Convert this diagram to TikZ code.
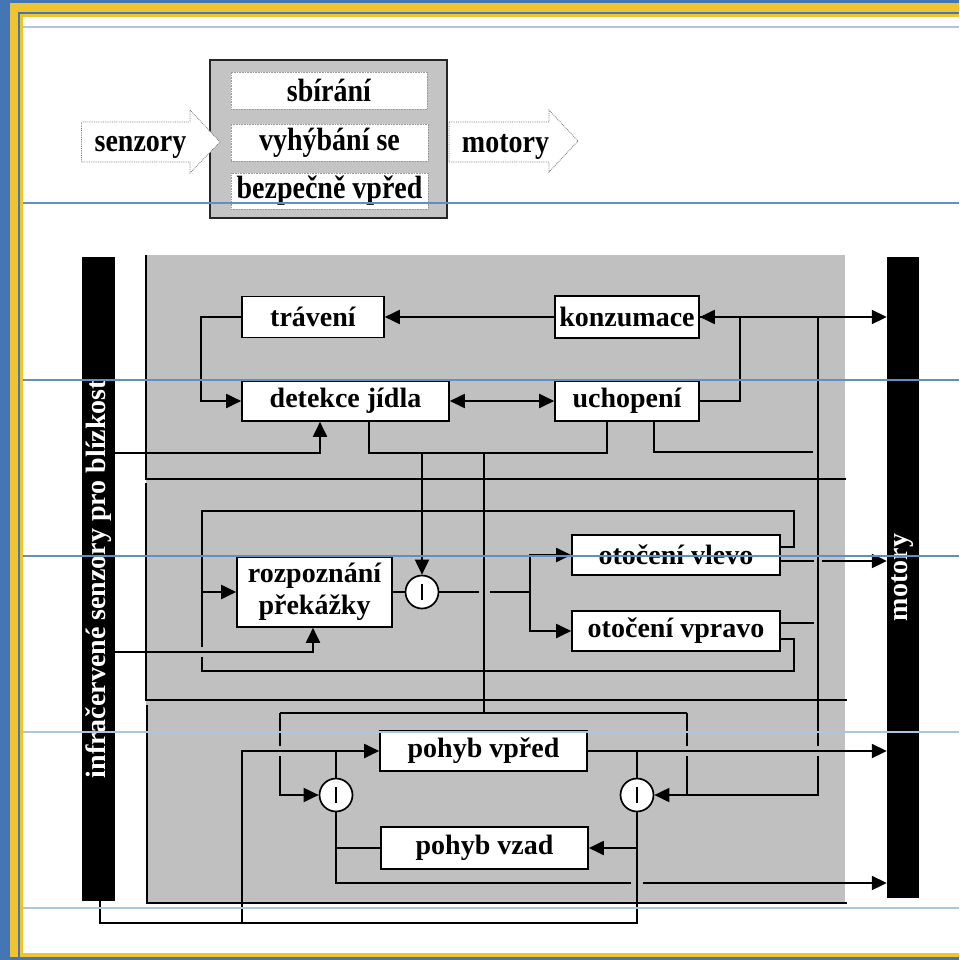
\documentclass[tikz,border=0pt]{standalone}
\usepackage{fontspec}
\usepackage{graphicx}
\setmainfont{Liberation Serif}
\usetikzlibrary{arrows.meta,calc}

\definecolor{frameblue}{RGB}{68,118,182}
\definecolor{frameyellow}{RGB}{240,196,48}
\definecolor{panelgray}{RGB}{192,192,192}
\definecolor{topgray}{RGB}{196,196,196}
\definecolor{rulelight}{RGB}{172,198,226}
\definecolor{rulemid}{RGB}{98,142,196}

\tikzset{
  lbl/.style={font=\bfseries\fontsize{28}{32}\selectfont},
  box/.style={lbl, draw, fill=white, line width=1.6pt, inner sep=0pt, align=center},
  bar/.style={fill=black, inner sep=0pt},
  bartext/.style={lbl, text=white, rotate=90},
  inh/.style={circle, draw, fill=white, line width=1.7pt, minimum size=33pt, inner sep=0pt,
    path picture={\draw[line width=1.6pt]
      ($(path picture bounding box.center)+(0,-8pt)$) -- ($(path picture bounding box.center)+(0,8pt)$);}},
  conn/.style={line width=1.9pt},
  arr/.style={conn, -{Triangle[length=15pt,width=14pt]}},
  arrboth/.style={conn, {Triangle[length=15pt,width=14pt]}-{Triangle[length=15pt,width=14pt]}},
  divider/.style={line width=1.9pt},
  topframe/.style={draw=black!85, fill=topgray, line width=2.2pt, inner sep=0pt},
  topbox/.style={lbl, draw=black!40, densely dotted, line width=0.6pt, fill=white, inner sep=0pt},
  bigarrow/.style={draw=black!55, densely dotted, line width=0.8pt, fill=white},
}

\begin{document}
\begin{tikzpicture}[x=1pt, y=-1pt]
\useasboundingbox (0,0) rectangle (959,960);

% page frame
\fill[frameblue] (0,0) rectangle (959,960);
\fill[frameyellow] (10,3) rectangle (959,957);
\fill[frameblue] (18,12) rectangle (959,957);
\fill[frameyellow] (20,14) rectangle (959,957);
\fill[white] (23,17) rectangle (959,953);

% ---------- layered behaviours (top) ----------
\node[topframe, minimum width=237pt, minimum height=158pt] (beh) at (328.5,139) {};
\node[topbox, minimum width=196pt, minimum height=37pt] (sbir) at (329,90.5) {\scalebox{1}[1.15]{sbírání}};
\node[topbox, minimum width=197pt, minimum height=37pt] (vyh) at (329.5,142.5) {\scalebox{1}[1.15]{vyhýbání se}};
\node[topbox, minimum width=197pt, minimum height=36pt] (bezp) at (329.5,191) {\scalebox{1}[1.15]{bezpečně vpřed}};

\draw[bigarrow] (81.5,122) -- (190,122) -- (190,110) -- (220,142) -- (190,173) -- (190,162) -- (81.5,162) -- cycle;
\node[lbl] (senz) at (140.5,147) {\scalebox{1}[1.15]{senzory}};
\draw[bigarrow] (449,122) -- (549,122) -- (549,110) -- (578,141) -- (549,172) -- (549,162) -- (449,162) -- cycle;
\node[lbl] (mot) at (505.5,147) {\scalebox{1}[1.15]{motory}};

% ---------- subsumption network (bottom) ----------
\fill[panelgray] (146,255) rectangle (845,903);
\draw[divider] (146,255) -- (146,479) -- (846,479);
\draw[divider] (146,483) -- (146,700) -- (847,700);
\draw[divider] (147,705) -- (147,903) -- (847,903);

% sensor and motor bars
\node[bar, minimum width=33pt, minimum height=644pt] (senL) at (98.5,579) {};
\node[bartext] (senT) at (senL.center) {infračervené senzory pro blízkost};
\node[bar, minimum width=32pt, minimum height=641pt] (motR) at (903,577.5) {};
\node[bartext] (motT) at (motR.center) {motory};

% modules
\node[box, minimum width=142pt, minimum height=41pt] (trav) at (313,317) {trávení};
\node[box, minimum width=144pt, minimum height=42pt] (kons) at (627,317) {konzumace};
\node[box, minimum width=207pt, minimum height=40pt] (det) at (345.5,401) {detekce jídla};
\node[box, minimum width=144pt, minimum height=40pt] (uch) at (627,401) {uchopení};
\node[box, minimum width=155pt, minimum height=70pt] (roz) at (314.5,592) {rozpoznání\\překážky};
\node[box, minimum width=208pt, minimum height=40pt] (vlevo) at (676,555) {otočení vlevo};
\node[box, minimum width=208pt, minimum height=40pt] (vpravo) at (676,631) {otočení vpravo};
\node[box, minimum width=207pt, minimum height=40pt] (vpred) at (483.5,751) {pohyb vpřed};
\node[box, minimum width=207pt, minimum height=42pt] (vzad) at (484.5,848) {pohyb vzad};

\node[inh] (c1) at (422,592) {};
\node[inh] (c2) at (336,795) {};
\node[inh] (c3) at (637,795) {};

% junction points
\coordinate (s1) at (320,453);
\coordinate (busA) at (369,453);
\coordinate (busB) at (607,453);
\coordinate (uo) at (654,452);
\coordinate (uoEnd) at (813,452);
\coordinate (bus3) at (484,713);
\coordinate (b3L) at (280,713);
\coordinate (b3R) at (687,713);
\coordinate (r818) at (818,317);
\coordinate (fork) at (530,592);
\coordinate (lpL) at (202,592);
\coordinate (sb) at (100,923);

% food layer
\draw[arr] (kons.west) -- (trav.east |- kons.west);
\draw[arr] (trav.west) -- ++(-40,0) |- (det.west);
\draw[arrboth] (det.east) -- (uch.west);
\draw[arr] (uch.east) -- ++(40,0) |- (kons.east);
\draw[arr] (kons.east) -- (kons.east -| motR.west);
\draw[arr] (senL.east |- s1) -| (det.south -| s1);
\draw[conn] (det.south -| busA) -- (busA) -- (busB) -- (uch.south -| busB);
\draw[conn] (uch.south -| uo) -- (uo) -- (uoEnd);
\draw[arr] (c1.north |- busA) -- (c1.north);
\draw[conn] (bus3 |- busA) -- (bus3);
\draw[conn] (b3L) -- (b3R);

% obstacle layer
\draw[conn] (roz.east) -- (c1.west);
\draw[conn] (c1.east) -- (479,592) (490,592) -- (fork);
\draw[arr] (fork) |- (vlevo.west);
\draw[arr] (fork) |- (vpravo.west);
\draw[conn] (vlevo.east |- 0,547) -- (794,547) |- (202,511) -- (lpL);
\draw[conn] (vpravo.east |- 0,639) -- (794,639) |- (202,671) -- (202,657) (202,647) -- (lpL);
\draw[arr] (lpL) -- (roz.west);
\draw[arr] (senL.east |- 0,652) -| (roz.south -| 313,0);
\draw[arr] (vlevo.east |- 0,561) -- (814,561) (822,561) -- (motR.west |- 0,561);
\draw[conn] (vpravo.east |- 0,623) -- (814,623);

% motion layer
\draw[arr] (r818) -- (818,746) (818,756) -- (818,795) -- (c3.east);
\draw[conn] (b3R) -- (687,746) (687,756) -- (687,795);
\draw[arr] (b3L) -- (280,746) (280,756) -- (280,795) -- (c2.west);
\draw[conn] (senL.south -| sb) -- (sb) -- (sb -| c3.south) -- (c3.south);
\draw[arr] (242,923) |- (vpred.west);
\draw[conn] (c2.north) -- (c2.north |- vpred.west);
\draw[arr] (vpred.east) -- (vpred.east -| motR.west);
\draw[conn] (c3.north) -- (c3.north |- vpred.east);
\draw[arr] (c2.south) -- (336,883) -- (631,883) (643,883) -- (motR.west |- 0,883);
\draw[conn] (c2.south |- vzad.west) -- (vzad.west);
\draw[arr] (c3.south |- vzad.east) -- (vzad.east);

% ruled guide lines
\foreach \yy/\cc in {27/rulelight, 203/rulemid, 380/rulemid, 556/rulemid, 732/rulelight, 908/rulelight}
  \draw[\cc, line width=1.2pt] (23,\yy) -- (959,\yy);
\end{tikzpicture}
\end{document}
